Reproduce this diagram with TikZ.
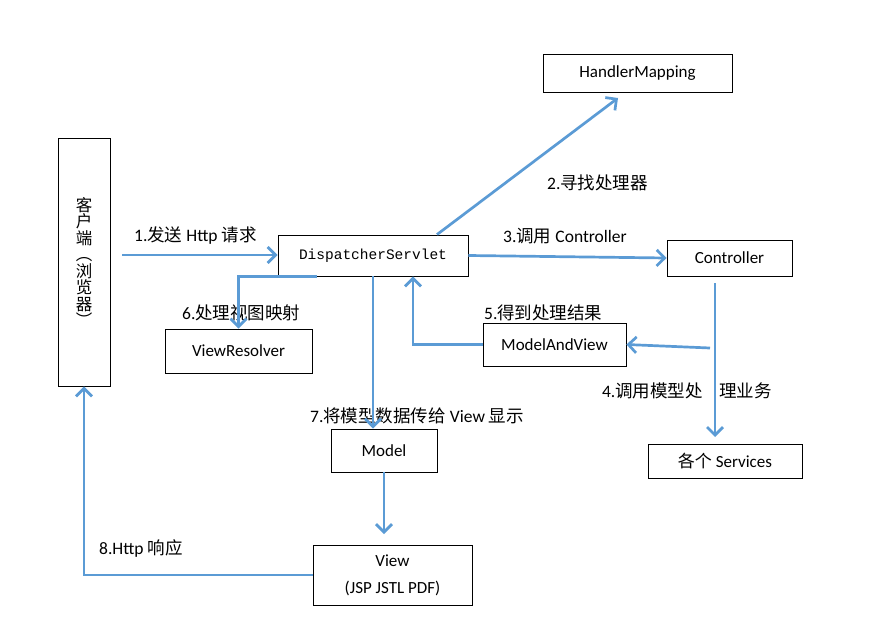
\documentclass[tikz,border=0pt]{standalone}
\usepackage{fontspec}
\setmainfont{Carlito}
\newfontfamily\cjk{Noto Sans CJK SC}
\newfontfamily\codefont{Liberation Mono}
\newcommand{\zh}[1]{{\cjk #1}}
\usetikzlibrary{arrows.meta}
\definecolor{flowblue}{RGB}{91,155,213}

\begin{document}
\begin{tikzpicture}[x=1pt,y=-1pt,
  box/.style={draw,line width=0.9pt,inner sep=0pt,font=\fontsize{17}{20}\selectfont},
  flow/.style={flowblue,line width=2.7pt,-{Straight Barb[length=8pt,width=16pt]}},
  lbl/.style={anchor=west,inner sep=0pt,font=\fontsize{17.5}{20}\selectfont}]
\useasboundingbox (0,0) rectangle (872,642);

\node[box,minimum width=52pt,minimum height=248pt,align=center,font=\cjk\fontsize{16.5}{16.5}\selectfont] (client) at (84,262) {客\\户\\端\\︵\\浏\\览\\器\\︶};
\node[box,minimum width=190pt,minimum height=41pt,font=\codefont\fontsize{14.5}{17}\selectfont] (ds) at (373,255.5) {DispatcherServlet};
\node[box,minimum width=189pt,minimum height=38pt] (hm) at (637.5,73) {HandlerMapping};
\node[box,minimum width=125pt,minimum height=36pt] (ctrl) at (729.5,258) {Controller};
\node[box,minimum width=147pt,minimum height=44pt] (vr) at (238.5,351) {ViewResolver};
\node[box,minimum width=143pt,minimum height=43pt] (mav) at (554.5,344.5) {ModelAndView};
\node[box,minimum width=106pt,minimum height=43pt] (model) at (384,450.5) {Model};
\node[box,minimum width=154pt,minimum height=34pt] (svc) at (725,461) {\zh{各个} Services};
\node[box,minimum width=159pt,minimum height=60pt,align=center,font=\fontsize{17}{27}\selectfont] (view) at (392.5,575) {View\\(JSP JSTL PDF)};

\node[lbl] (l1) at (134,236) {1.\zh{发送} Http \zh{请求}};
\node[lbl] (l2) at (547,183) {2.\zh{寻找处理器}};
\node[lbl] (l3) at (503,236) {3.\zh{调用} Controller};
\node[lbl,anchor=east] (l4a) at (703,391) {4.\zh{调用模型处}};
\node[lbl] (l4b) at (719,391) {\zh{理业务}};
\node[lbl] (l5) at (484,313) {5.\zh{得到处理结果}};
\node[lbl] (l6) at (182,313) {6.\zh{处理视图映射}};
\node[lbl] (l7) at (310,416) {7.\zh{将模型数据传给} View \zh{显示}};
\node[lbl] (l8) at (99,548) {8.Http \zh{响应}};

\coordinate (in1) at (122,255);
\coordinate (hmin) at (618,98);
\coordinate (c4a) at (715,283);
\coordinate (c4b) at (715,437);
\coordinate (c5) at (710,348);
\coordinate (vin) at (384,534);

\draw[flow] (in1) -- (in1 -| ds.west);
\draw[flow] ([xshift=64pt]ds.north) -- (hmin);
\draw[flow] (ds.east) -- (ctrl.west);
\draw[flow] (c4a) -- (c4b);
\draw[flow] (c5) -- (mav.east);
\draw[flow] (mav.west) -| ([xshift=40pt]ds.south);
\draw[flow] ([xshift=-56pt]ds.south) -| (vr.north);
\draw[flow] (ds.south) -- (ds.south |- model.north);
\draw[flow] (model.south) -- (vin);
\draw[flow] (view.west) -| (client.south);

\end{tikzpicture}
\end{document}
